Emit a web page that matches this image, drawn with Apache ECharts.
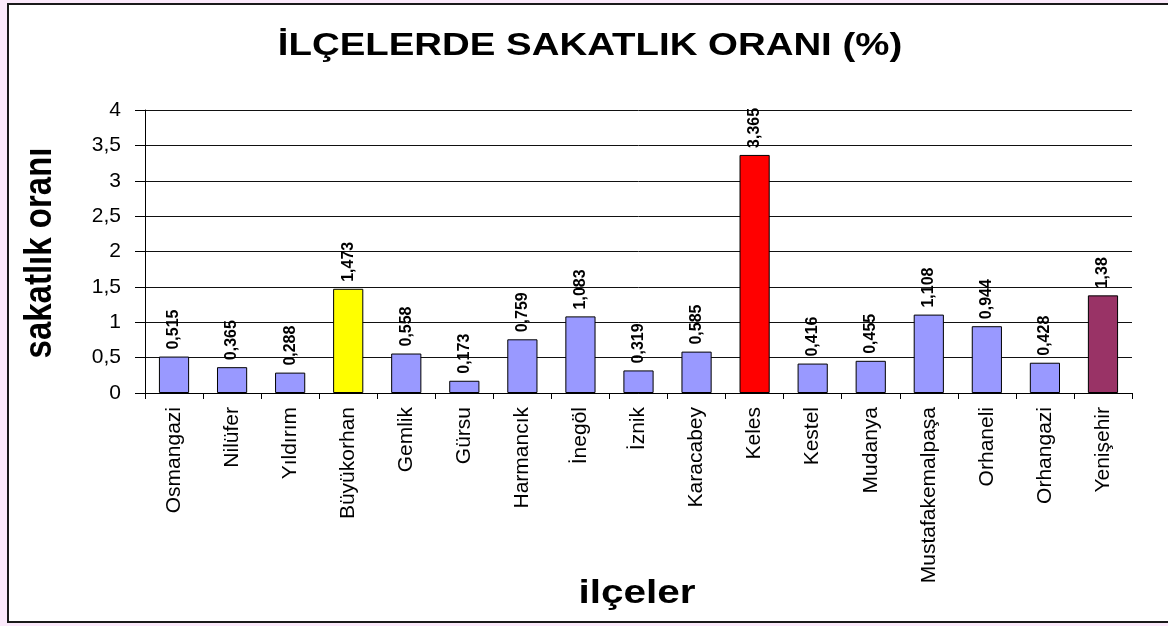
<!DOCTYPE html>
<html>
<head>
<meta charset="utf-8">
<script src="https://cdn.jsdelivr.net/npm/echarts@6/dist/echarts.min.js"></script>
<style>
html,body{margin:0;padding:0;background:#fbe9fb;}
#chart{width:1168px;height:626px;}
</style>
</head>
<body>
<div id="chart"></div>
<script>
const categories = ["Osmangazi","Nilüfer","Yıldırım","Büyükorhan","Gemlik","Gürsu","Harmancık","İnegöl","İznik","Karacabey","Keles","Kestel","Mudanya","Mustafakemalpaşa","Orhaneli","Orhangazi","Yenişehir"];
const values = [0.515,0.365,0.288,1.473,0.558,0.173,0.759,1.083,0.319,0.585,3.365,0.416,0.455,1.108,0.944,0.428,1.38];
const barColors = ["#9999ff","#9999ff","#9999ff","#ffff00","#9999ff","#9999ff","#9999ff","#9999ff","#9999ff","#9999ff","#ff0000","#9999ff","#9999ff","#9999ff","#9999ff","#9999ff","#993366"];
const titleText = "İLÇELERDE SAKATLIK ORANI (%)";
const xName = "ilçeler";
const yName = "sakatlık oranı";

const fmt = v => String(v).replace('.', ',');
const font = "Liberation Sans, Arial, sans-serif";

const chart = echarts.init(document.getElementById('chart'));
chart.setOption({
  backgroundColor: '#fbe9fb',
  animation: false,
  graphic: [
    {
      type: 'rect', z: -10, silent: true,
      shape: {x: 8, y: 4, width: 1170, height: 618},
      style: {fill: '#ffffff', stroke: '#1a1a1a', lineWidth: 2}
    },
    {
      type: 'text', x: 590, y: 46, scaleX: 1.2, silent: true,
      style: {text: titleText, align: 'center', verticalAlign: 'middle',
        fontFamily: font, fontWeight: 'bold', fontSize: 32, fill: '#000'}
    },
    {
      type: 'text', x: 637, y: 594, scaleX: 1.19, silent: true,
      style: {text: xName, align: 'center', verticalAlign: 'middle',
        fontFamily: font, fontWeight: 'bold', fontSize: 34, fill: '#000'}
    },
    {
      type: 'text', x: 41, y: 253, rotation: Math.PI / 2, scaleY: 1.15, silent: true,
      style: {text: yName, align: 'center', verticalAlign: 'middle',
        fontFamily: font, fontWeight: 'bold', fontSize: 33, fill: '#000'}
    }
  ],
  grid: {left: 145, right: 36, top: 110, bottom: 233, containLabel: false},
  xAxis: {
    type: 'category', data: categories,
    axisLine: {lineStyle: {color: '#000', width: 1}},
    axisTick: {show: true, length: 6, alignWithLabel: false, lineStyle: {color: '#000'}},
    axisLabel: {rotate: 90, margin: 14, interval: 0, fontFamily: font, fontSize: 21, color: '#000'}
  },
  yAxis: {
    type: 'value', min: 0, max: 4, interval: 0.5,
    axisLine: {show: true, lineStyle: {color: '#000', width: 1}},
    axisTick: {show: true, length: 10, lineStyle: {color: '#000'}},
    splitLine: {show: true, lineStyle: {color: '#111', width: 1}},
    axisLabel: {margin: 24, fontFamily: font, fontSize: 21, color: '#000', formatter: v => fmt(v)}
  },
  series: [{
    type: 'bar', barWidth: '52%',
    data: values.map((v, i) => ({value: v, itemStyle: {color: barColors[i]}})),
    itemStyle: {borderColor: '#000', borderWidth: 1},
    label: {
      show: true, position: 'top', rotate: 90, align: 'left', verticalAlign: 'middle',
      distance: 7, fontFamily: font, fontWeight: 'bold', fontSize: 16, color: '#000',
      formatter: p => fmt(p.value)
    }
  }]
});
</script>
</body>
</html>
